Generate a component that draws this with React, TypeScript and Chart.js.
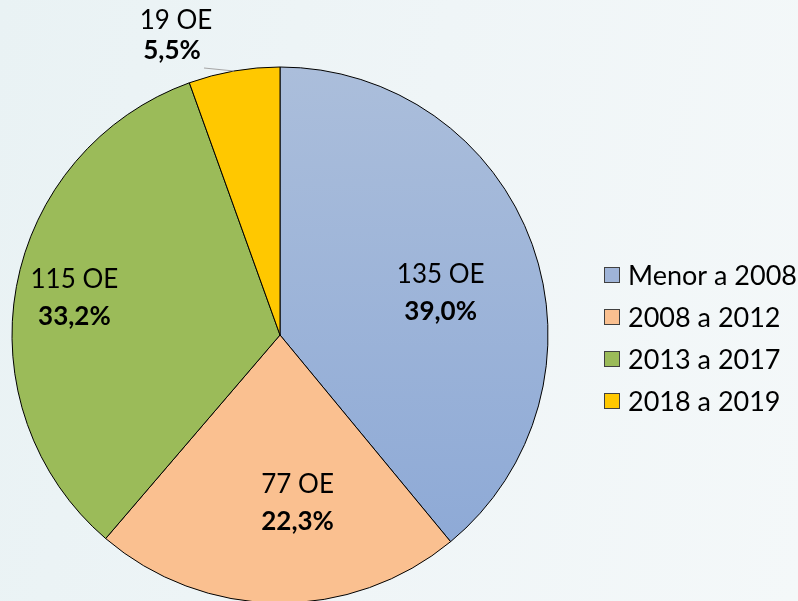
import React, { useEffect, useRef } from "react";
import { Chart, registerables } from "chart.js";

Chart.register(...registerables);

const categories = ["Menor a 2008", "2008 a 2012", "2013 a 2017", "2018 a 2019"];
const counts = [135, 77, 115, 19];
const unitSuffix = " OE";

// layout of the inside labels: [fraction of radius, angle shift in degrees]
const labelPlacement: [number, number][] = [
  [0.62, 5],
  [0.63, -6.5],
  [0.78, 0],
  [0, 0],
];

const fillColors = ["#9fb4d8", "#fac090", "#9bbb59", "#ffc800"];

function pct(v: number, total: number) {
  return (v / total * 100).toFixed(1).replace(".", ",") + "%";
}

const FONT = "Lato, 'Open Sans', sans-serif";

const labelPlugin = {
  id: "sliceLabels",
  afterDatasetsDraw(chart: any) {
    const ctx = chart.ctx;
    const meta = chart.getDatasetMeta(0);
    const data = chart.data.datasets[0].data as number[];
    const total = data.reduce((a: number, b: number) => a + b, 0);
    ctx.save();
    ctx.fillStyle = "#000";
    ctx.textAlign = "center";
    ctx.textBaseline = "middle";
    meta.data.forEach((arc: any, i: number) => {
      const { x, y, startAngle, endAngle, outerRadius } = arc.getProps(
        ["x", "y", "startAngle", "endAngle", "outerRadius"], true);
      const mid = (startAngle + endAngle) / 2;
      const line1 = data[i] + unitSuffix;
      const line2 = pct(data[i], total);
      const share = data[i] / total;
      if (share > 0.1) {
        const [f, shift] = labelPlacement[i];
        const a = mid + (shift * Math.PI) / 180;
        const cx = x + Math.cos(a) * outerRadius * f;
        const cy = y + Math.sin(a) * outerRadius * f;
        ctx.font = `26px ${FONT}`;
        ctx.fillText(line1, cx, cy - 18);
        ctx.font = `bold 26px ${FONT}`;
        ctx.fillText(line2, cx, cy + 19);
      } else {
        // outside label with leader line
        const ex = x + Math.cos(mid) * outerRadius;
        const ey = y + Math.sin(mid) * outerRadius;
        const lx = ex - 30;
        const ly = ey - 3;
        ctx.strokeStyle = "#a6a6a6";
        ctx.lineWidth = 1.2;
        ctx.beginPath();
        ctx.moveTo(ex, ey);
        ctx.lineTo(lx, ly);
        ctx.stroke();
        const tx = lx - 32;
        ctx.font = `26px ${FONT}`;
        ctx.fillText(line1, tx + 4, ly - 47);
        ctx.font = `bold 26px ${FONT}`;
        ctx.fillText(line2, tx, ly - 17);
      }
    });
    ctx.restore();
  },
};

const legendPlugin = {
  id: "customLegend",
  afterDraw(chart: any) {
    const ctx = chart.ctx;
    const labels = chart.data.labels as string[];
    const left = chart.chartArea.right + 56;
    const top = 275;
    const step = 42;
    const box = 16;
    ctx.save();
    ctx.textBaseline = "middle";
    ctx.textAlign = "left";
    ctx.font = `27px ${FONT}`;
    labels.forEach((lab, i) => {
      const cy = top + i * step;
      ctx.fillStyle = fillColors[i];
      ctx.fillRect(left, cy - box / 2, box, box);
      ctx.strokeStyle = "#404040";
      ctx.lineWidth = 1;
      ctx.strokeRect(left + 0.5, cy - box / 2 + 0.5, box - 1, box - 1);
      ctx.fillStyle = "#000";
      ctx.fillText(lab, left + box + 8, cy + 1);
    });
    ctx.restore();
  },
};

export default function App() {
  const ref = useRef<HTMLCanvasElement | null>(null);
  useEffect(() => {
    if (!ref.current) return;
    const chart = new Chart(ref.current, {
      type: "pie",
      data: {
        labels: categories,
        datasets: [
          {
            data: counts,
            backgroundColor: (c: any) => {
              const i = c.dataIndex;
              if (i === 0) {
                const g = c.chart.ctx.createLinearGradient(0, 67, 0, 560);
                g.addColorStop(0, "#abbedb");
                g.addColorStop(1, "#8da9d6");
                return g;
              }
              return fillColors[i];
            },
            borderColor: "#000",
            borderWidth: 1,
            clip: false as any,
          } as any,
        ],
      },
      options: {
        responsive: false,
        maintainAspectRatio: false,
        animation: false,
        radius: 268,
        layout: { padding: { left: 12, right: 250, top: 69, bottom: 0 } },
        plugins: {
          legend: { display: false },
          tooltip: { enabled: false },
        },
        events: [],
      } as any,
      plugins: [labelPlugin, legendPlugin],
    });
    return () => chart.destroy();
  }, []);
  return (
    <div
      style={{
        position: "fixed",
        left: 0,
        top: 0,
        width: 798,
        height: 601,
        background: "linear-gradient(100deg, #e9f2f4 0%, #eff5f7 50%, #f4f8f9 100%)",
        overflow: "hidden",
      }}
    >
      <canvas ref={ref} width={798} height={601} style={{ display: "block" }} />
    </div>
  );
}
